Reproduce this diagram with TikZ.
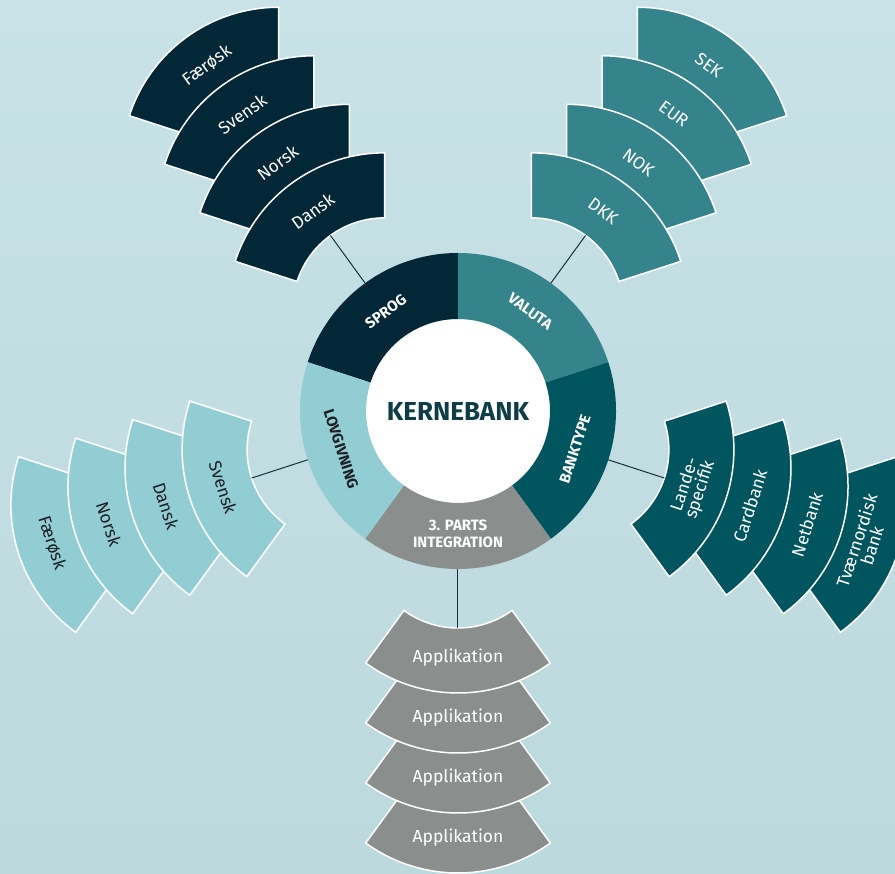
\documentclass[tikz,border=0pt]{standalone}
\usepackage{fontspec}
\setmainfont{Fira Sans}
\usepackage{xcolor}
\usepackage{tikz}
\usetikzlibrary{positioning}

\definecolor{bgtop}{RGB}{200,226,231}
\definecolor{bgbottom}{RGB}{188,217,222}
\definecolor{sprogcol}{RGB}{2,40,56}
\definecolor{valutacol}{RGB}{53,131,139}
\definecolor{bankcol}{RGB}{0,85,95}
\definecolor{lovcol}{RGB}{147,205,212}
\definecolor{partscol}{RGB}{138,143,142}
\definecolor{kernecol}{RGB}{14,61,71}
\definecolor{darktext}{RGB}{28,32,36}
\definecolor{linkcol}{RGB}{22,48,58}

\tikzstyle{link} = [line width=1pt, draw=linkcol]
\tikzstyle{ringtext} = [font=\bfseries\fontsize{15}{17}\selectfont, align=center, inner sep=0pt]
\tikzstyle{sattext} = [font=\fontsize{17.5}{16}\selectfont, align=center, inner sep=0pt]

% ring part: name, mid angle, fill, text colour, text rotation, text
\newcommand{\ringpart}[6]{%
  \fill[#3] (#2-36:92pt) arc[start angle=#2-36, end angle=#2+36, radius=92pt]
    -- (#2+36:158pt) arc[start angle=#2+36, end angle=#2-36, radius=158pt] -- cycle;
  \node[ringtext, text=#4, rotate=#5] (#1) at (#2:123pt) {#6};
  \coordinate (#1-edge) at (#2:158pt);
}

% satellite part: name, mid angle, offset, fill, text colour, text rotation, text
\newcommand{\satpart}[7]{%
  \begin{scope}[shift={(#2:#3pt)}]
    \fill[#4, draw=white, line width=1.5pt] (#2-36:92pt)
      arc[start angle=#2-36, end angle=#2+36, radius=92pt]
      -- (#2+36:157pt) arc[start angle=#2+36, end angle=#2-36, radius=157pt] -- cycle;
    \node[sattext, text=#5, rotate=#6] (#1) at (#2:122pt) {#7};
    \coordinate (#1-in) at (#2:92pt);
  \end{scope}
}

\begin{document}
\begin{tikzpicture}[x=1pt,y=1pt]
    \useasboundingbox (-458,-463) rectangle (437,411);
    \shade[top color=bgtop, bottom color=bgbottom] (-458,-463) rectangle (437,411);

    % Sprog
    \satpart{sprog4}{126}{305}{sprogcol}{white}{36}{Færøsk}
    \satpart{sprog3}{126}{245}{sprogcol}{white}{36}{Svensk}
    \satpart{sprog2}{126}{185}{sprogcol}{white}{36}{Norsk}
    \satpart{sprog1}{126}{125}{sprogcol}{white}{36}{Dansk}

    % Valuta
    \satpart{valuta4}{54}{305}{valutacol}{white}{-36}{SEK}
    \satpart{valuta3}{54}{245}{valutacol}{white}{-36}{EUR}
    \satpart{valuta2}{54}{185}{valutacol}{white}{-36}{NOK}
    \satpart{valuta1}{54}{125}{valutacol}{white}{-36}{DKK}

    % Banktype
    \satpart{bank4}{-18}{305}{bankcol}{white}{72}{Tværnordisk\\bank}
    \satpart{bank3}{-18}{245}{bankcol}{white}{72}{Netbank}
    \satpart{bank2}{-18}{185}{bankcol}{white}{72}{Cardbank}
    \satpart{bank1}{-18}{125}{bankcol}{white}{72}{Lande-\\specifik}

    % 3. parts integration
    \satpart{app4}{-90}{305}{partscol}{white}{0}{Applikation}
    \satpart{app3}{-90}{245}{partscol}{white}{0}{Applikation}
    \satpart{app2}{-90}{185}{partscol}{white}{0}{Applikation}
    \satpart{app1}{-90}{125}{partscol}{white}{0}{Applikation}

    % Lovgivning
    \satpart{lov4}{198}{305}{lovcol}{darktext}{-72}{Færøsk}
    \satpart{lov3}{198}{245}{lovcol}{darktext}{-72}{Norsk}
    \satpart{lov2}{198}{185}{lovcol}{darktext}{-72}{Dansk}
    \satpart{lov1}{198}{125}{lovcol}{darktext}{-72}{Svensk}

    % Ring
    \fill[white] (0,0) circle[radius=92pt];
    \ringpart{sprog}{126}{sprogcol}{white}{36}{SPROG}
    \ringpart{valuta}{54}{valutacol}{white}{-36}{VALUTA}
    \ringpart{banktype}{-18}{bankcol}{white}{72}{BANKTYPE}
    \ringpart{parts}{-90}{partscol}{white}{0}{3. PARTS\\INTEGRATION}
    \ringpart{lov}{198}{lovcol}{darktext}{-72}{LOVGIVNING}

    \node[font=\bfseries\fontsize{26}{30}\selectfont, text=kernecol] (kerne) at (0,0) {KERNEBANK};

    \draw [link] (sprog-edge) -- (sprog1-in);
    \draw [link] (valuta-edge) -- (valuta1-in);
    \draw [link] (banktype-edge) -- (bank1-in);
    \draw [link] (parts-edge) -- (app1-in);
    \draw [link] (lov-edge) -- (lov1-in);

\end{tikzpicture}
\end{document}
